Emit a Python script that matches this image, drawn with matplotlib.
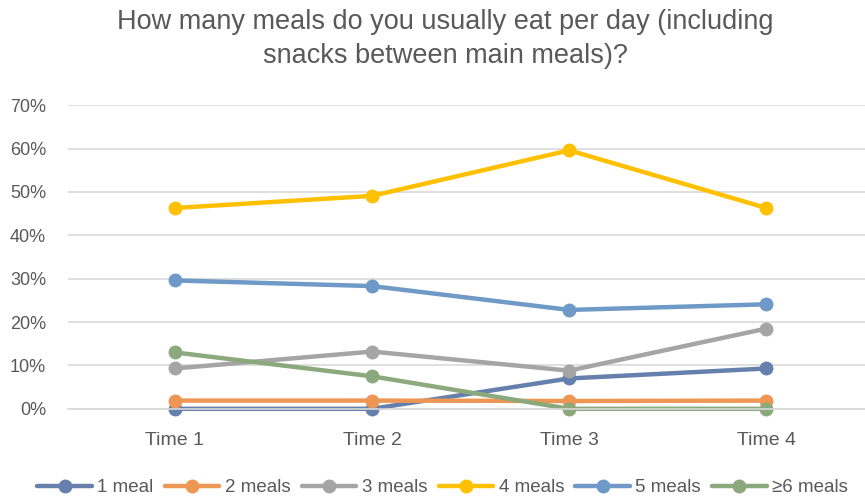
import matplotlib.pyplot as plt
from matplotlib.ticker import PercentFormatter

# Share of respondents by number of daily meals, four survey waves
times = ['Time 1', 'Time 2', 'Time 3', 'Time 4']
series_names = ['1 meal', '2 meals', '3 meals', '4 meals', '5 meals', '\u22656 meals']
one_meal = [0.0, 0.0, 7.0, 9.3]
two_meals = [1.9, 1.9, 1.8, 1.9]
three_meals = [9.3, 13.2, 8.8, 18.5]
four_meals = [46.3, 49.1, 59.6, 46.3]
five_meals = [29.6, 28.3, 22.8, 24.1]
six_plus = [13.0, 7.5, 0.0, 0.0]

colors = ['#6680AE', '#EE9654', '#A5A5A5', '#FFC000', '#6F99C6', '#8BA97C']

plt.rcParams['font.family'] = ['Liberation Sans', 'DejaVu Sans']

fig = plt.figure(figsize=(8.65, 5.01), dpi=100)
ax = fig.add_axes([0.079, 0.184, 0.921, 0.606])

x = range(len(times))
for vals, name, c in zip([one_meal, two_meals, three_meals, four_meals, five_meals, six_plus],
                         series_names, colors):
    ax.plot(x, vals, color=c, lw=3.2, marker='o', ms=9, label=name,
            solid_capstyle='round', clip_on=False)

ax.set_ylim(0, 70)
ax.set_yticks(range(0, 71, 10))
ax.yaxis.set_major_formatter(PercentFormatter(decimals=0))
ax.set_xlim(-0.54, 3.5)
ax.set_xticks(list(x))
ax.set_xticklabels(times)

ax.grid(axis='y', color='#D9D9D9', lw=1.2)
ax.set_axisbelow(True)
for s in ['top', 'right', 'left']:
    ax.spines[s].set_visible(False)
ax.spines['bottom'].set_color('#D9D9D9')
ax.spines['bottom'].set_linewidth(1.2)
ax.tick_params(axis='both', length=0, labelcolor='#595959')
ax.tick_params(axis='x', pad=17, labelsize=14)
ax.tick_params(axis='y', pad=16, labelsize=13)

fig.suptitle('How many meals do you usually eat per day (including\nsnacks between main meals)?',
             x=0.515, y=0.982, fontsize=19.5, color='#595959', linespacing=1.38)

ax.legend(loc='center', bbox_to_anchor=(0.47, -0.26), ncol=6, frameon=False,
          fontsize=13.5, labelcolor='#595959', handlelength=2.9, handletextpad=0.3,
          columnspacing=0.6, borderaxespad=0)

fig.savefig('out.png', dpi=100)
